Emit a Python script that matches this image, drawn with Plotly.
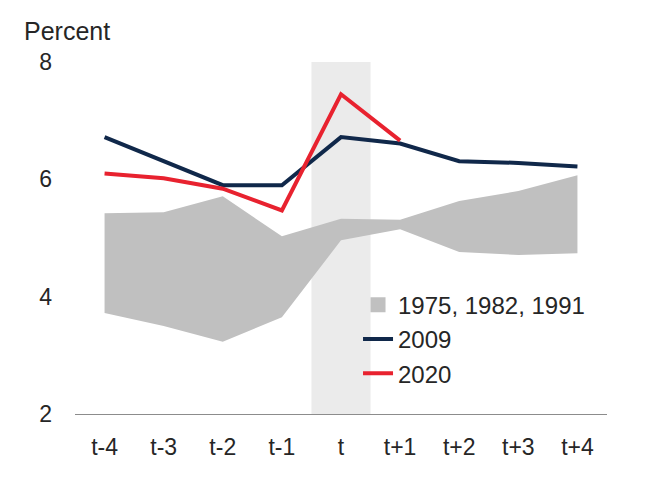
import plotly.graph_objects as go

categories = ["t-4", "t-3", "t-2", "t-1", "t", "t+1", "t+2", "t+3", "t+4"]
band_low = [3.72, 3.50, 3.23, 3.65, 4.96, 5.15, 4.76, 4.71, 4.74]
band_high = [5.42, 5.44, 5.71, 5.03, 5.33, 5.31, 5.63, 5.80, 6.07]
y2009 = [6.72, 6.31, 5.90, 5.90, 6.72, 6.61, 6.31, 6.28, 6.22]
cat2020 = ["t-4", "t-3", "t-2", "t-1", "t", "t+1"]
y2020 = [6.10, 6.02, 5.84, 5.47, 7.45, 6.66]
yticks = [2, 4, 6, 8]

GRAY = "#c0c0c0"
NAVY = "#10284a"
RED = "#e8222f"
TXT = "#262626"
FONT = "Liberation Sans, Arial, sans-serif"

fig = go.Figure()
fig.add_shape(type="rect", xref="x", yref="y", x0=3.5, x1=4.5, y0=2, y1=8,
              fillcolor="#ebebeb", line=dict(width=0), layer="below")

fig.add_trace(go.Scatter(x=categories, y=band_low, mode="lines",
                         line=dict(width=0, color=GRAY), showlegend=False,
                         hoverinfo="skip"))
fig.add_trace(go.Scatter(x=categories, y=band_high, mode="lines", fill="tonexty",
                         fillcolor=GRAY, line=dict(width=0, color=GRAY),
                         showlegend=False, hoverinfo="skip"))
# legend proxy for the band
fig.add_trace(go.Scatter(x=[None], y=[None], mode="markers", name="1975, 1982, 1991",
                         marker=dict(symbol="square", size=15, color=GRAY),
                         legendgroup="a"))
fig.add_trace(go.Scatter(x=categories, y=y2009, mode="lines", name="2009",
                         line=dict(color=NAVY, width=4), legendgroup="b"))
fig.add_trace(go.Scatter(x=cat2020, y=y2020, mode="lines", name="2020",
                         line=dict(color=RED, width=4), legendgroup="c"))

fig.add_annotation(text="Percent", xref="paper", yref="paper", x=-0.1, y=1.088,
                   xanchor="left", yanchor="middle", showarrow=False,
                   font=dict(size=25, color=TXT, family=FONT))

fig.update_layout(
    width=650, height=481,
    margin=dict(l=67, r=51, t=54, b=75),
    paper_bgcolor="white", plot_bgcolor="white",
    font=dict(family=FONT, size=23, color=TXT),
    showlegend=True,
    legend=dict(x=0.532, y=0.373, xanchor="left", yanchor="top",
                bgcolor="rgba(0,0,0,0)", font=dict(size=24, color=TXT),
                tracegroupgap=0, itemwidth=30),
)
fig.update_xaxes(type="category", categoryorder="array", categoryarray=categories,
                 range=[-0.5, 8.5], showgrid=False, zeroline=False,
                 showline=True, linecolor="#8c8c8c", linewidth=1,
                 ticks="", ticklabelstandoff=12, tickfont=dict(size=23, color=TXT))
fig.update_yaxes(range=[2, 8], tickvals=yticks, showgrid=False, zeroline=False,
                 showline=False, ticks="", ticklabelstandoff=22,
                 tickfont=dict(size=23, color=TXT))

fig.write_html("out.html")
